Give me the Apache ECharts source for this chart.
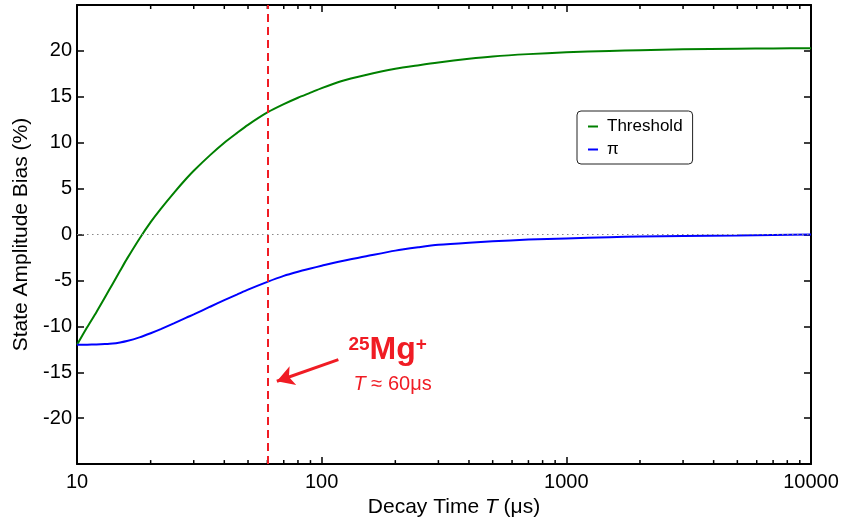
<!DOCTYPE html>
<html>
<head>
<meta charset="utf-8">
<script src="https://cdn.jsdelivr.net/npm/echarts@6/dist/echarts.min.js"></script>
<style>html,body{margin:0;padding:0;background:#fff}#c{width:843px;height:523px}</style>
</head>
<body>
<div id="c"></div>
<script>
// Decay time T (µs)
const decayTimes = [10, 11, 12, 13, 14, 15, 16, 18, 20, 22, 25, 28, 30, 35, 40, 45, 50, 60, 70, 80, 90, 100, 120, 150, 200, 250, 300, 400, 500, 700, 1000, 1500, 2000, 3000, 5000, 7000, 10000];
// State amplitude bias (%) for Threshold analysis
const thresholdBias = [-12.0, -10.1, -8.45, -6.85, -5.35, -3.95, -2.65, -0.45, 1.35, 2.8, 4.6, 6.1, 6.95, 8.65, 10.0, 11.05, 11.95, 13.3, 14.2, 14.9, 15.45, 15.95, 16.7, 17.35, 18.05, 18.45, 18.75, 19.15, 19.4, 19.65, 19.85, 20.0, 20.08, 20.17, 20.24, 20.27, 20.3];
// State amplitude bias (%) for pi analysis
const piBias = [-12.0, -11.99, -11.97, -11.93, -11.87, -11.75, -11.6, -11.2, -10.75, -10.3, -9.65, -9.05, -8.7, -7.86, -7.15, -6.55, -6.0, -5.15, -4.5, -4.05, -3.7, -3.4, -2.9, -2.4, -1.75, -1.38, -1.12, -0.88, -0.74, -0.55, -0.42, -0.29, -0.22, -0.16, -0.1, -0.05, 0.0];
const seriesNames = ['Threshold', '\u03c0'];
const yTickLabels = [-20, -15, -10, -5, 0, 5, 10, 15, 20];
const minorTicks = [20, 30, 40, 50, 60, 70, 80, 90, 200, 300, 400, 500, 600, 700, 800, 900, 2000, 3000, 4000, 5000, 6000, 7000, 8000, 9000];
const markerT = 60;
const arrowFrom = [117, -13.63];
const arrowTo = [65.6, -15.98];
const labelIonAt = [186, -12.6];
const labelTAt = [195, -16.3];

const FONT = 'Liberation Sans, Arial, Helvetica, sans-serif';
const RED = '#f01c24';

const chart = echarts.init(document.getElementById('c'), null, {renderer: 'canvas'});

const axisCommonX = {
  type: 'log', logBase: 10, min: 10, max: 10000,
  axisLine: {show: true, onZero: false, lineStyle: {color: '#000', width: 2}},
  axisTick: {show: true, inside: true, length: 7, lineStyle: {color: '#000', width: 1.5}},
  splitLine: {show: false},
  minorTick: {show: false}
};
const axisCommonY = {
  type: 'value', min: -25, max: 25, interval: 5,
  axisLine: {show: true, onZero: false, lineStyle: {color: '#000', width: 2}},
  axisTick: {show: true, inside: true, length: 7, lineStyle: {color: '#000', width: 1.5}},
  splitLine: {show: false}
};

chart.setOption({
  animation: false,
  backgroundColor: '#fff',
  textStyle: {fontFamily: FONT},
  grid: {left: 77, right: 32, top: 5, bottom: 57, containLabel: false},
  legend: {
    data: [
      {name: seriesNames[0], icon: 'rect'},
      {name: seriesNames[1], icon: 'rect'}
    ],
    orient: 'vertical', left: 577, top: 111,
    itemWidth: 10, itemHeight: 2, itemGap: 6,
    padding: [7, 10, 6, 11],
    borderColor: '#222', borderWidth: 1, borderRadius: 4,
    backgroundColor: '#fff',
    textStyle: {fontFamily: FONT, fontSize: 17, color: '#000', padding: [0, 0, 0, 4]}
  },
  xAxis: [
    Object.assign({}, axisCommonX, {
      position: 'bottom',
      name: '{a|Decay Time }{i|T}{a| (\u03bcs)}',
      nameLocation: 'middle', nameGap: 21,
      nameTextStyle: {padding: [0, 0, 0, 20], rich: {
        a: {fontFamily: FONT, fontSize: 21, color: '#000'},
        i: {fontFamily: FONT, fontSize: 21, fontStyle: 'italic', color: '#000'}
      }},
      axisLabel: {show: true, margin: 8, fontFamily: FONT, fontSize: 20, color: '#000',
        formatter: v => String(Math.round(v))}
    }),
    Object.assign({}, axisCommonX, {
      position: 'top',
      axisLabel: {show: false}
    })
  ],
  yAxis: [
    Object.assign({}, axisCommonY, {
      position: 'left',
      name: 'State Amplitude Bias (%)',
      nameLocation: 'middle', nameGap: 44, nameRotate: 90,
      nameTextStyle: {fontFamily: FONT, fontSize: 21, color: '#000'},
      axisLabel: {show: true, margin: 5, fontFamily: FONT, fontSize: 20, color: '#000',
        formatter: v => (yTickLabels.indexOf(v) >= 0 ? String(v) : '')}
    }),
    Object.assign({}, axisCommonY, {
      position: 'right',
      axisLabel: {show: false}
    })
  ],
  series: [
    {
      name: 'zero', type: 'line', data: [], xAxisIndex: 0, yAxisIndex: 0, silent: true,
      markLine: {
        silent: true, symbol: ['none', 'none'], label: {show: false},
        lineStyle: {color: '#888', type: [1.5, 3.5], width: 1.2},
        data: [{yAxis: 0}]
      }
    },
    {
      name: seriesNames[0], type: 'line', xAxisIndex: 0, yAxisIndex: 0,
      data: decayTimes.map((t, i) => [t, thresholdBias[i]]),
      showSymbol: false, smooth: 0.25,
      lineStyle: {color: '#008000', width: 2}, itemStyle: {color: '#008000'}
    },
    {
      name: seriesNames[1], type: 'line', xAxisIndex: 0, yAxisIndex: 0,
      data: decayTimes.map((t, i) => [t, piBias[i]]),
      showSymbol: false, smooth: 0.25,
      lineStyle: {color: '#0000ff', width: 2}, itemStyle: {color: '#0000ff'}
    },
    {
      name: 'annot', type: 'line', data: [], xAxisIndex: 0, yAxisIndex: 0, silent: true, z: 5,
      markLine: {
        silent: true, label: {show: false},
        data: [
          [{xAxis: markerT, yAxis: -25, symbol: 'none'}, {xAxis: markerT, yAxis: 25, symbol: 'none',
            lineStyle: {color: RED, width: 2, type: [8, 5]}}],
          [{coord: arrowFrom, symbol: 'none'}, {coord: arrowTo, symbol: 'arrow', symbolSize: [15, 17],
            lineStyle: {color: RED, width: 3, type: 'solid'}}]
        ],
        lineStyle: {color: RED}
      },
      markPoint: {
        silent: true, symbol: 'circle', symbolSize: 0,
        data: [
          {coord: labelIonAt, label: {show: true, position: 'inside',
            formatter: '{s|25}{m|Mg}{s|+}',
            rich: {
              s: {fontFamily: FONT, fontSize: 19, fontWeight: 'bold', color: RED, verticalAlign: 'top', lineHeight: 30, padding: [0, 0, 10, 0]},
              m: {fontFamily: FONT, fontSize: 32, color: RED, fontWeight: 'bold', lineHeight: 30}
            }}},
          {coord: labelTAt, label: {show: true, position: 'inside',
            formatter: '{i|T}{a| \u2248 60\u03bcs}',
            rich: {
              i: {fontFamily: FONT, fontSize: 20, fontStyle: 'italic', color: RED},
              a: {fontFamily: FONT, fontSize: 20, color: RED}
            }}}
        ]
      }
    },
    {
      name: 'minorTicks', type: 'custom', xAxisIndex: 0, yAxisIndex: 0, silent: true, clip: false,
      data: minorTicks.map(v => [v, 0]),
      encode: {x: 0, y: 1},
      renderItem: function (params, api) {
        const x = api.coord([api.value(0), 0])[0];
        const cs = params.coordSys;
        const st = {stroke: '#000', lineWidth: 1.5};
        return {type: 'group', children: [
          {type: 'line', shape: {x1: x, y1: cs.y + cs.height, x2: x, y2: cs.y + cs.height - 4}, style: st},
          {type: 'line', shape: {x1: x, y1: cs.y, x2: x, y2: cs.y + 4}, style: st}
        ]};
      }
    }
  ]
});
</script>
</body>
</html>
